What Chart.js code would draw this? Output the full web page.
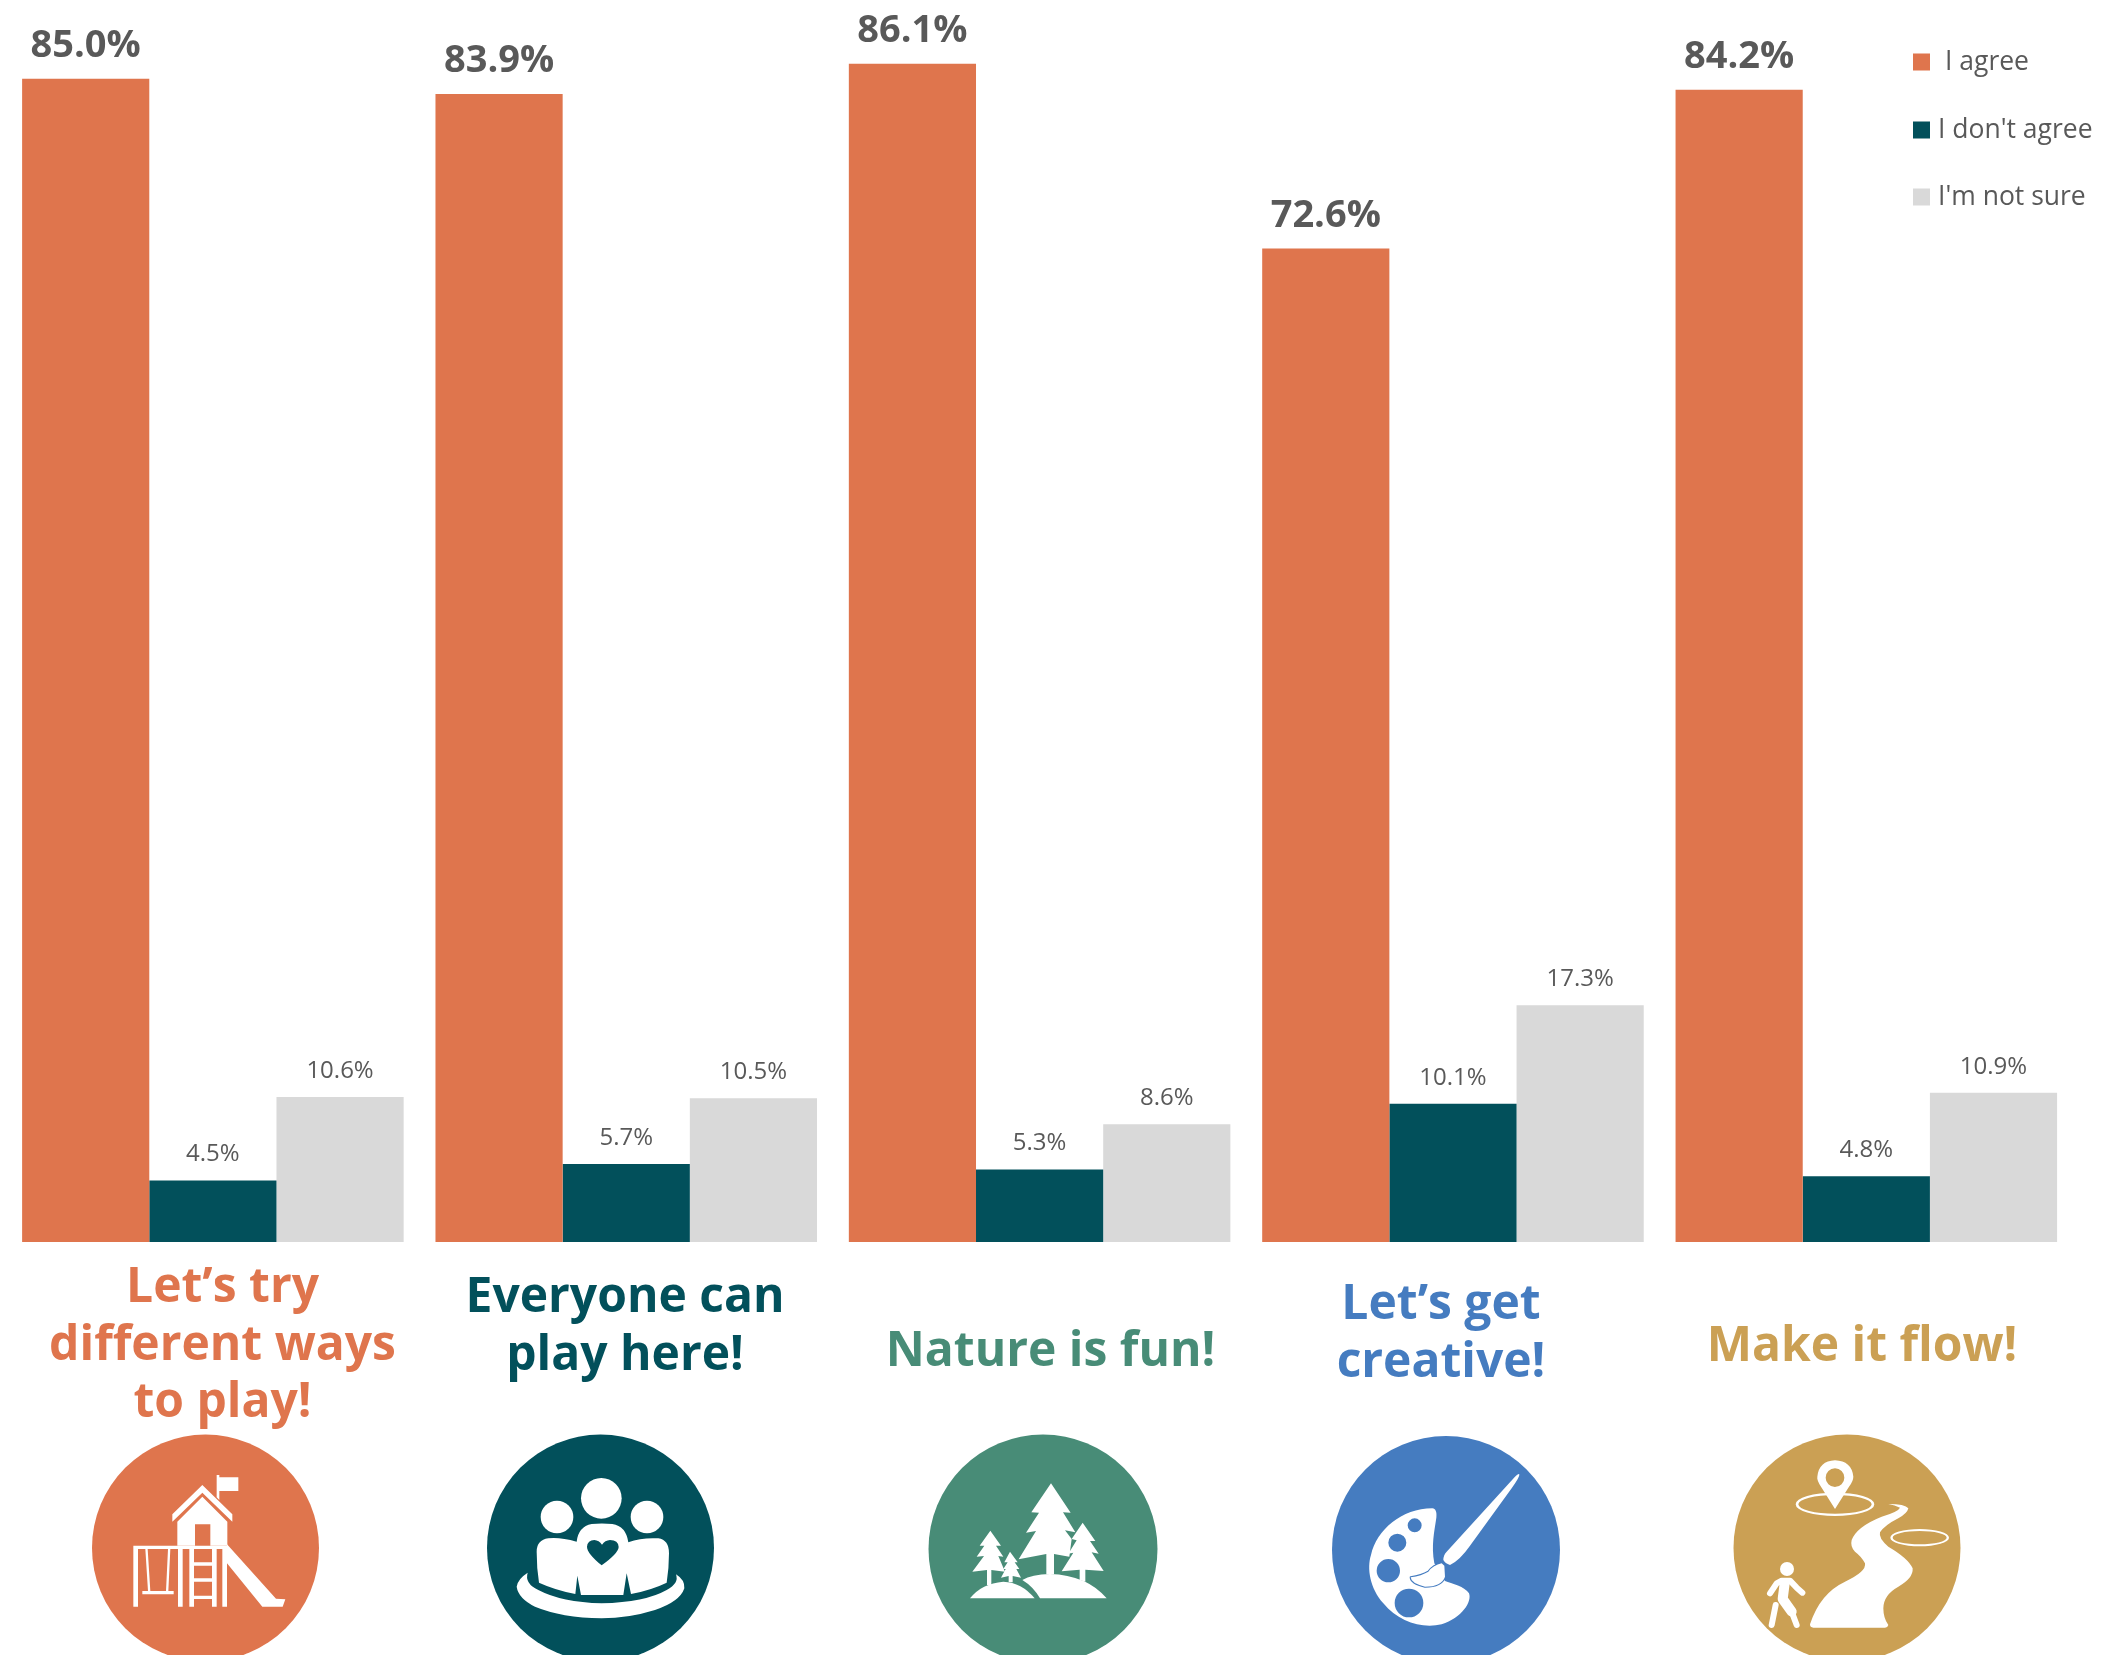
<!DOCTYPE html>
<html>
<head>
<meta charset="utf-8">
<title>Play space survey</title>
<script src="https://cdn.jsdelivr.net/npm/chart.js@4/dist/chart.umd.min.js"></script>
<style>
  html, body { margin: 0; padding: 0; background: #fff; }
  canvas { display: block; }
</style>
</head>
<body>
<canvas id="surveyChart" width="2128" height="1655"></canvas>
<script>
const categories = [
  ['Let’s try', 'different ways', 'to play!'],
  ['Everyone can', 'play here!'],
  ['Nature is fun!'],
  ['Let’s get', 'creative!'],
  ['Make it flow!']
];
const seriesNames = ['I agree', "I don't agree", "I'm not sure"];
const agree = [85.0, 83.9, 86.1, 72.6, 84.2];
const disagree = [4.5, 5.7, 5.3, 10.1, 4.8];
const notSure = [10.6, 10.5, 8.6, 17.3, 10.9];

const ORANGE = '#df754d';
const TEAL = '#02505b';
const GREY = '#d9d9d9';
const TEXT = '#595959';
const FONT = '"Open Sans"';

// title placement: centre x and baseline of the first line
const titleStyles = [
  { color: ORANGE, x: 222.5, y: 1302 },
  { color: TEAL, x: 625, y: 1312 },
  { color: '#488c77', x: 1050.5, y: 1366 },
  { color: '#457cc0', x: 1441, y: 1319 },
  { color: '#cba054', x: 1862, y: 1361 }
];

// icon artwork is drawn at 3x, x/y is where its 0,0 falls on the page
const icons = [
  {
    cx: 205.5, cy: 1548, r: 113.5, color: ORANGE, x: 100, y: 1455,
    layers: [
      { d: 'M217 178L307 90L397 178V200L307 113L217 200Z' },
      { d: 'M307 125L382 200V272H331V208H285V272H232V200Z' },
      { d: 'M350 60H358V67H415V108H358V135L350 127Z' },
      { d: 'M100 272H381V282H114V455H100Z' },
      { d: 'M234 282H248V455H234ZM268 282H282V455H268ZM336 282H350V455H336ZM367 282H381V455H367Z' },
      { d: 'M282 322H336V332H282ZM282 370H336V380H282ZM282 422H336V432H282Z' },
      { d: 'M136 282H143L151 408H144ZM204 282H211L205 408H198ZM127 408H221V418H127Z' },
      { d: 'M381 268L528 431L556 433L548 455H487L381 325Z' }
    ]
  },
  {
    cx: 600.5, cy: 1548, r: 113.5, color: TEAL, x: 495, y: 1455,
    layers: [
      { d: 'M258 130a61 61 0 1 0 122 0a61 61 0 1 0 -122 0Z' },
      { d: 'M137 186a49 49 0 1 0 98 0a49 49 0 1 0 -98 0Z' },
      { d: 'M407 186a49 49 0 1 0 98 0a49 49 0 1 0 -98 0Z' },
      { d: 'M125 290Q125 255 160 250Q195 246 245 260Q250 215 290 207Q320 204 352 207Q393 213 400 262Q440 247 490 250Q522 255 522 295Q522 340 515 383Q470 405 408 417L395 355L385 420H258L247 362L241 417Q180 405 132 383Q125 340 125 290Z' +
           'M320 331Q276 295 276 275Q278 255 298 255Q312 256 321 269Q330 256 345 255Q370 255 371 276Q370 295 320 331Z' },
      { d: 'M98 353Q88 385 130 405Q200 442 320 445Q450 442 515 405Q553 385 543 358Q570 375 568 400Q555 440 480 465Q400 490 320 490Q200 488 120 455Q70 430 65 395Q68 372 98 353Z' }
    ]
  },
  {
    cx: 1043, cy: 1549, r: 114.5, color: '#488c77', x: 940, y: 1455,
    layers: [
      { d: 'M333 85L392 173L369 172L406 232L375 226L395 252L388 305L342 297V358H319V297L236 313L288 228L258 233L297 173L274 172Z' },
      { d: 'M428 203L466 258L450 258L476 296L455 292L491 348L436 344V380L419 375V344L365 349L400 293L385 296L410 256L395 252Z' },
      { d: 'M151 227L183 272L168 272L190 305L175 303L195 350L154 345V390H141V345L97 350L132 303L110 305L133 272L119 272Z' },
      { d: 'M210 290L233 322L224 322L238 342L229 342L243 368L218 363V382H206V363L183 368L197 342L190 342L203 322L193 322Z' },
      { d: 'M90 430Q125 385 190 380Q245 382 284 430Z' },
      { d: 'M300 430Q280 395 247 375Q275 358 330 357Q440 360 500 430Z' }
    ]
  },
  {
    cx: 1446, cy: 1550, r: 114, color: '#457cc0', x: 1345, y: 1455,
    layers: [
      { d: 'M262 160C272 160 276 172 274 188C268 230 258 270 268 325L300 378C320 385 360 395 372 415C382 440 350 490 290 508C230 522 160 500 115 445C75 400 65 340 78 300C95 225 170 160 262 160Z' +
           'M188 211a21 21 0 1 0 42 0a21 21 0 1 0 -42 0Z' +
           'M130 263a27 27 0 1 0 54 0a27 27 0 1 0 -54 0Z' +
           'M95 347a35 35 0 1 0 70 0a35 35 0 1 0 -70 0Z' +
           'M149 444a43 43 0 1 0 86 0a43 43 0 1 0 -86 0Z' },
      { d: 'M298 332L290 325Q265 330 250 350Q230 362 197 367Q198 385 240 395Q290 395 300 365Z', stroke: 6, color: '#457cc0' },
      { d: 'M298 332L290 325Q265 330 250 350Q230 362 197 367Q198 385 240 395Q290 395 300 365Z' },
      { d: 'M523 58Q525 65 500 100L375 272Q345 315 315 330Q300 325 295 315Q295 300 305 290L510 65Q520 55 523 58Z' }
    ]
  },
  {
    cx: 1847, cy: 1548, r: 113.5, color: '#cba054', x: 1745, y: 1455,
    layers: [
      { d: 'M152 148a118 35 0 1 0 236 0a118 35 0 1 0 -236 0Z M160 148a110 28 0 1 0 220 0a110 28 0 1 0 -220 0Z' },
      { d: 'M436 248a88 26 0 1 0 176 0a88 26 0 1 0 -176 0Z M443 248a81 20 0 1 0 162 0a81 20 0 1 0 -162 0Z' },
      { d: 'M270 162L228 95Q215 75 217 65Q222 18 270 16Q320 18 325 65Q325 78 312 95Z M242 68a28 28 0 1 0 56 0a28 28 0 1 0 -56 0Z' },
      { d: 'M430 147Q480 147 490 160Q487 175 460 190Q420 210 405 232Q400 250 430 275Q490 310 503 340Q505 370 460 395Q415 420 415 460Q415 490 430 510Q428 518 420 518H205Q195 518 195 508Q225 415 300 380Q365 350 360 325Q350 305 330 290Q315 275 320 255Q335 215 410 185Q460 170 465 158Q450 150 430 147Z' },
      { d: 'M105 342a21 21 0 1 0 42 0a21 21 0 1 0 -42 0Z' },
      { d: 'M75 415L95 385L110 377H135L155 398L172 413', stroke: 18 },
      { d: 'M119 385L113 432L140 470', stroke: 30 },
      { d: 'M155 510L140 470', stroke: 18 },
      { d: 'M92 450L80 510', stroke: 18 }
    ]
  }
];

const legendRows = [
  { boxX: 1913, textX: 1945, y: 62 },
  { boxX: 1913, textX: 1938, y: 130 },
  { boxX: 1913, textX: 1938, y: 197 }
];

const barLabels = {
  id: 'barLabels',
  afterDatasetsDraw(chart) {
    const ctx = chart.ctx;
    ctx.save();
    ctx.textAlign = 'center';
    ctx.textBaseline = 'alphabetic';
    chart.data.datasets.forEach((ds, i) => {
      ctx.font = (i === 0 ? 'bold 38px ' : '24px ') + FONT;
      ctx.fillStyle = TEXT;
      chart.getDatasetMeta(i).data.forEach((bar, j) => {
        ctx.fillText(ds.data[j].toFixed(1) + '%', bar.x, bar.y - (i === 0 ? 22 : 19));
      });
    });
    ctx.restore();
  }
};

const sideLegend = {
  id: 'sideLegend',
  afterDraw(chart) {
    const ctx = chart.ctx;
    ctx.save();
    ctx.font = '26.5px ' + FONT;
    ctx.textBaseline = 'middle';
    chart.data.datasets.forEach((ds, i) => {
      const row = legendRows[i];
      ctx.fillStyle = ds.backgroundColor;
      ctx.fillRect(row.boxX, row.y - 8.5, 17, 17);
      ctx.fillStyle = TEXT;
      ctx.fillText(ds.label, row.textX, row.y);
    });
    ctx.restore();
  }
};

const categoryTitles = {
  id: 'categoryTitles',
  afterDraw(chart) {
    const ctx = chart.ctx;
    ctx.save();
    ctx.font = 'bold 48px ' + FONT;
    ctx.textAlign = 'center';
    ctx.textBaseline = 'alphabetic';
    chart.data.labels.forEach((lines, i) => {
      const t = titleStyles[i];
      ctx.fillStyle = t.color;
      lines.forEach((line, n) => ctx.fillText(line, t.x, t.y + n * 57.5));
    });
    ctx.restore();
  }
};

const categoryIcons = {
  id: 'categoryIcons',
  afterDraw(chart) {
    const ctx = chart.ctx;
    icons.forEach(icon => {
      ctx.save();
      ctx.fillStyle = icon.color;
      ctx.beginPath();
      ctx.arc(icon.cx, icon.cy, icon.r, 0, Math.PI * 2);
      ctx.fill();
      ctx.translate(icon.x, icon.y);
      ctx.scale(1 / 3, 1 / 3);
      icon.layers.forEach(layer => {
        const path = new Path2D(layer.d);
        if (layer.stroke) {
          ctx.strokeStyle = layer.color || '#fff';
          ctx.lineWidth = layer.stroke;
          ctx.lineCap = 'round';
          ctx.lineJoin = 'round';
          ctx.stroke(path);
        } else {
          ctx.fillStyle = layer.color || '#fff';
          ctx.fill(path, 'evenodd');
        }
      });
      ctx.restore();
    });
  }
};

new Chart(document.getElementById('surveyChart'), {
  type: 'bar',
  data: {
    labels: categories,
    datasets: [
      { label: seriesNames[0], data: agree, backgroundColor: ORANGE },
      { label: seriesNames[1], data: disagree, backgroundColor: TEAL },
      { label: seriesNames[2], data: notSure, backgroundColor: GREY }
    ]
  },
  options: {
    responsive: false,
    animation: false,
    layout: { padding: { left: 6.2, right: 55, top: 10.4, bottom: 413 } },
    plugins: {
      legend: { display: false },
      tooltip: { enabled: false }
    },
    datasets: { bar: { categoryPercentage: 0.923, barPercentage: 1 } },
    scales: {
      x: { display: false },
      y: { display: false, min: 0, max: 90 }
    }
  },
  plugins: [barLabels, sideLegend, categoryTitles, categoryIcons]
});
</script>
</body>
</html>
